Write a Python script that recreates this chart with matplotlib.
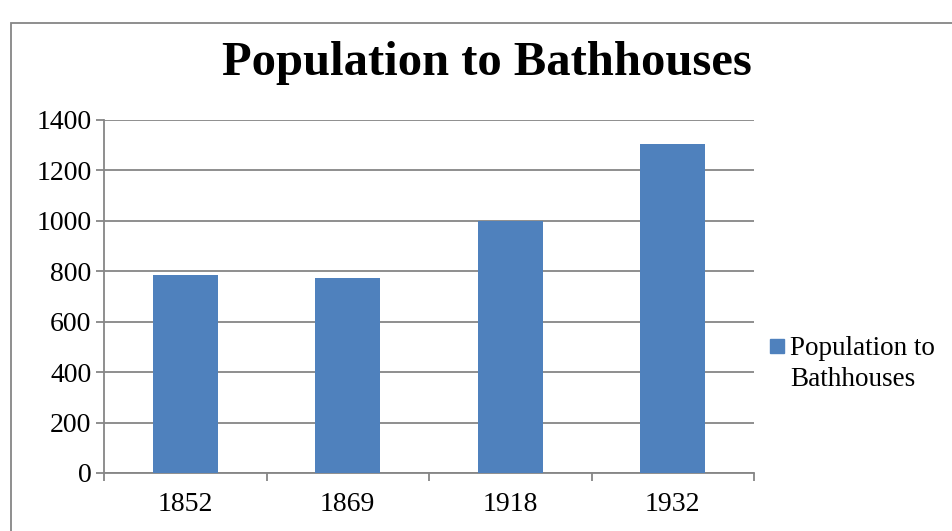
import matplotlib
matplotlib.use("Agg")
import matplotlib.pyplot as plt
from matplotlib.patches import Rectangle

categories = ["1852", "1869", "1918", "1932"]
values = [786, 774, 1000, 1306]
series_name = "Population to Bathhouses"
yticks = [0, 200, 400, 600, 800, 1000, 1200, 1400]

W, H = 953, 531
fig = plt.figure(figsize=(W / 100, H / 100), dpi=100)
plt.rcParams['font.family'] = ['Liberation Serif', 'DejaVu Serif']

grid_c = "#868686"
bar_c = "#4F81BD"

# outer chart border
fig.patches.append(Rectangle((11 / W, -0.1), 2, 1 - 23 / H + 0.1, transform=fig.transFigure,
                             fill=False, edgecolor=grid_c, linewidth=1.3))

ax = fig.add_axes([104 / W, 1 - 473 / H, (754 - 104) / W, (473 - 120) / H])
x = list(range(len(categories)))
ax.bar(x, values, width=0.4, color=bar_c, zorder=3)
ax.set_xlim(-0.5, len(categories) - 0.5)
ax.set_ylim(0, 1400)
ax.set_yticks(yticks)
ax.set_yticklabels([str(v) for v in yticks], fontsize=20)
ax.yaxis.grid(True, color=grid_c, linewidth=1.3, zorder=0)
ax.set_xticks(x)
ax.set_xticklabels(categories, fontsize=20)
ax.tick_params(axis='x', length=0, pad=14)
ax.set_xticks([i - 0.5 for i in range(len(categories) + 1)], minor=True)
ax.tick_params(axis='x', which='minor', length=6, color=grid_c, width=1.3)
ax.tick_params(axis='y', length=6, color=grid_c, width=1.3, pad=3)
for s in ['top', 'right']:
    ax.spines[s].set_visible(False)
for s in ['left', 'bottom']:
    ax.spines[s].set_color(grid_c)
    ax.spines[s].set_linewidth(1.3)

fig.text(487 / W, 1 - 63 / H, series_name, ha='center', va='center',
         fontsize=35, fontweight='bold')

# legend (key square aligned with first text line, as in the reference)
fig.patches.append(Rectangle((770 / W, 1 - 353 / H), 14 / W, 14 / H,
                             transform=fig.transFigure, color=bar_c))
fig.text(790 / W, 1 - 364 / H, "Population to\nBathhouses", ha='left', va='center',
         fontsize=19.5, linespacing=1.3, transform=fig.transFigure)

fig.savefig("out.png", dpi=100)
